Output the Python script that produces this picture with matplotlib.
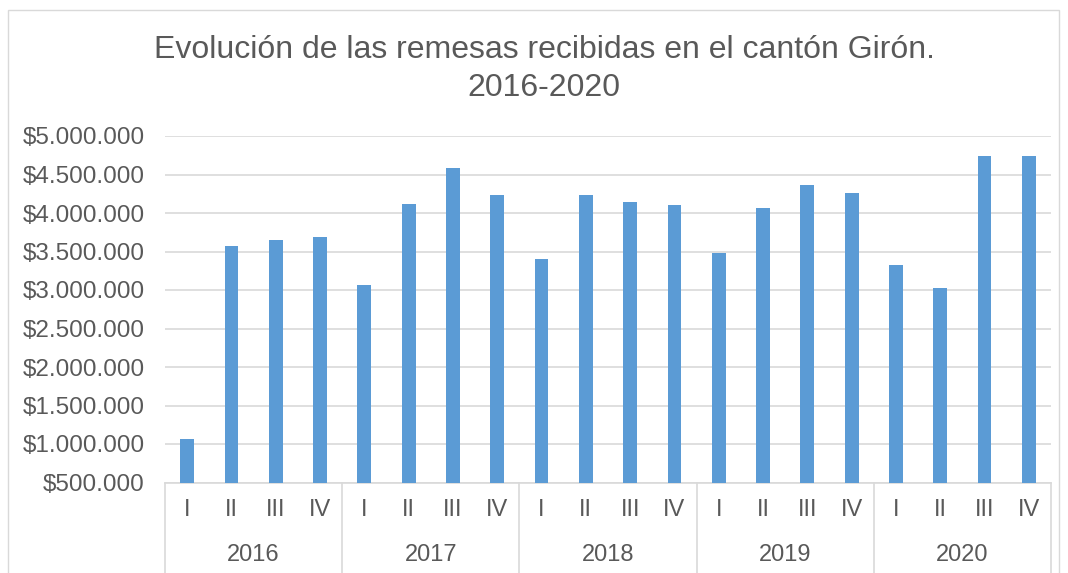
import matplotlib.pyplot as plt
import numpy as np
from matplotlib.patches import Rectangle

plt.rcParams['font.family'] = ['Liberation Sans', 'DejaVu Sans']

years = ['2016', '2017', '2018', '2019', '2020']
quarters = ['I', 'II', 'III', 'IV']
remesas = [1060000, 3568000, 3646000, 3685000,
           3065000, 4121000, 4590000, 4237000,
           3397000, 4228000, 4138000, 4108000,
           3487000, 4060000, 4366000, 4263000,
           3319000, 3022000, 4737000, 4741000]
y_ticks = [500000, 1000000, 1500000, 2000000, 2500000, 3000000,
           3500000, 4000000, 4500000, 5000000]
y_labels = ['$500.000', '$1.000.000', '$1.500.000', '$2.000.000', '$2.500.000',
            '$3.000.000', '$3.500.000', '$4.000.000', '$4.500.000', '$5.000.000']

text_col = '#595959'
grid_col = '#d9d9d9'

fig = plt.figure(figsize=(10.68, 5.73), dpi=100)
W, H = 1068, 573
ax = fig.add_axes([165 / W, 1 - 482.5 / H, (1051 - 165) / W, (482.5 - 136) / H])

# chart border
fig.patches.append(Rectangle((8 / W, -0.05), (1059 - 8) / W, 1.05 - 10 / H,
                             transform=fig.transFigure, fill=False,
                             edgecolor=grid_col, linewidth=1))

x = np.arange(len(remesas))
ax.bar(x, remesas, width=0.31, color='#5b9bd5', zorder=3)

ax.set_xlim(-0.5, len(remesas) - 0.5)
ax.set_ylim(500000, 5000000)
ax.set_yticks(y_ticks)
ax.set_yticklabels(y_labels, fontsize=17.5, color=text_col)
ax.yaxis.grid(True, color=grid_col, linewidth=1.2, zorder=0)
ax.tick_params(axis='y', length=0, pad=14.5)

ax.set_xticks(x)
ax.set_xticklabels(quarters * len(years), fontsize=17, color=text_col)
ax.tick_params(axis='x', length=0, pad=12)

for s in ['top', 'right', 'left']:
    ax.spines[s].set_visible(False)
ax.spines['bottom'].set_color(grid_col)
ax.spines['bottom'].set_linewidth(1.2)

trans = ax.get_xaxis_transform()
for i in range(len(years) + 1):
    xb = i * 4 - 0.5
    ax.plot([xb, xb], [0, -0.26], transform=trans, color=grid_col,
            linewidth=1.2, clip_on=False)
for i, yr in enumerate(years):
    ax.text(i * 4 + 1.5, -0.21, yr, transform=trans, ha='center', va='center',
            fontsize=17, color=text_col)

fig.text(544 / W, 1 - 50 / H, 'Evolución de las remesas recibidas en el cantón Girón.',
         ha='center', va='center', fontsize=23, color=text_col)
fig.text(544 / W, 1 - 88 / H, '2016-2020',
         ha='center', va='center', fontsize=23, color=text_col)

fig.savefig('out.png', dpi=100)
